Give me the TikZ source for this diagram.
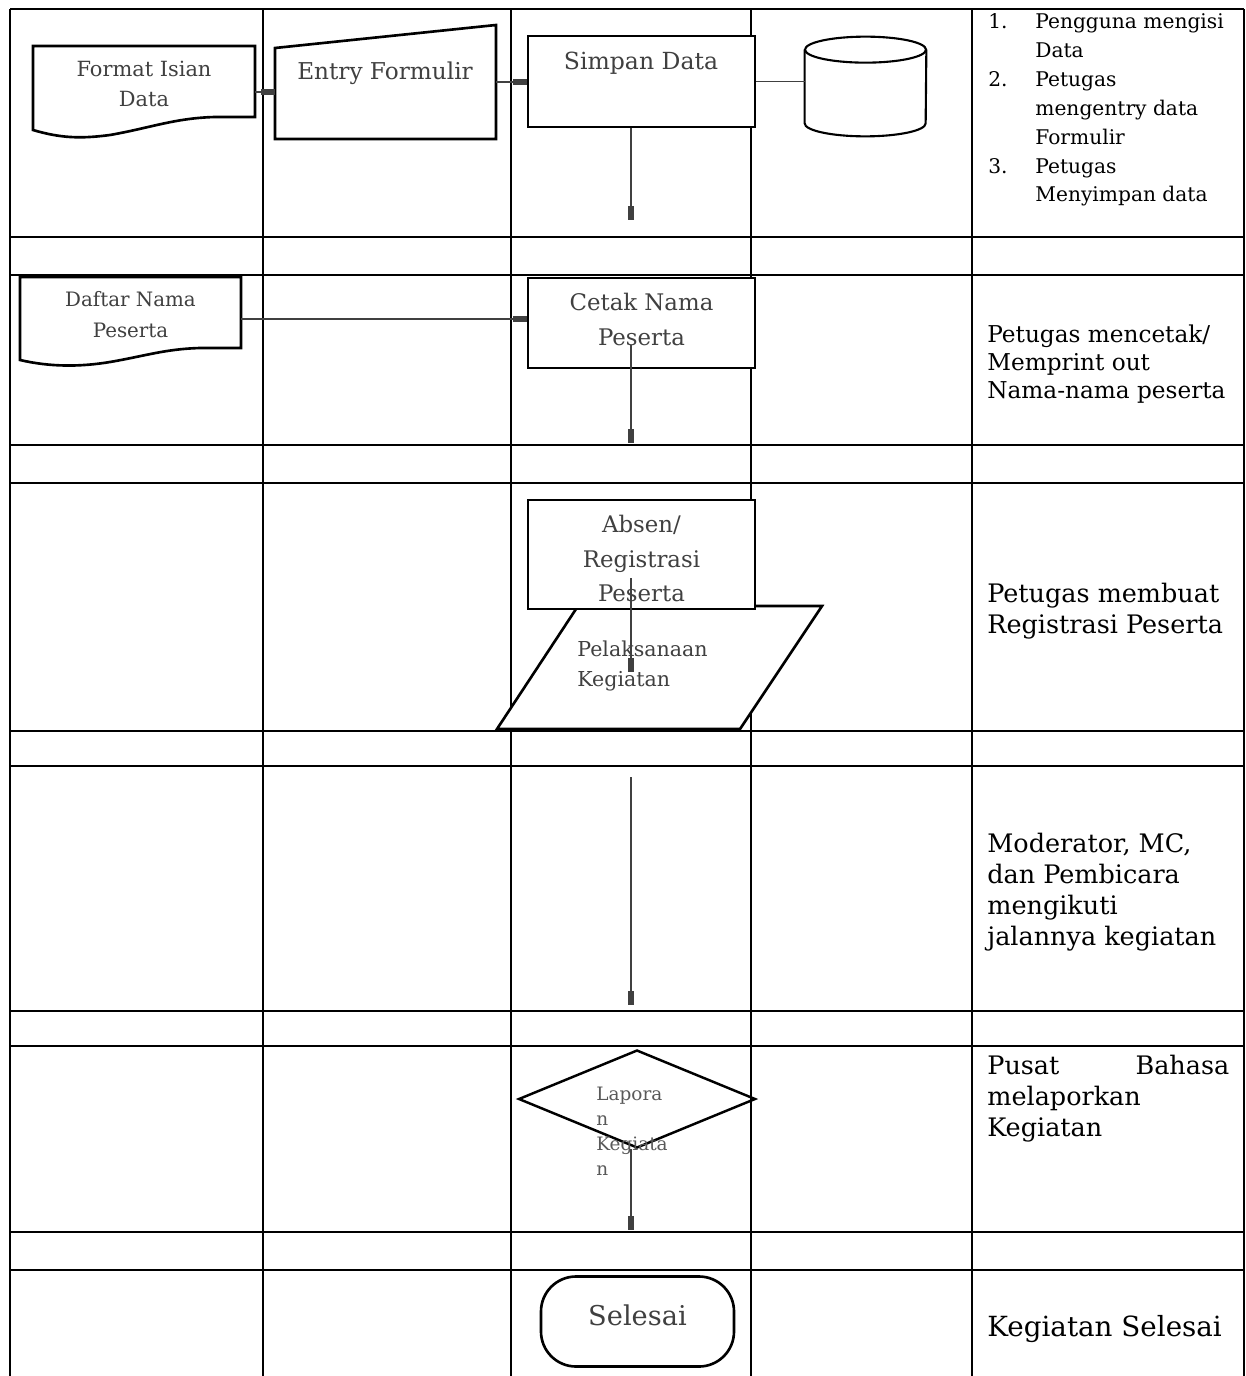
\documentclass[tikz,border=0pt]{standalone}
\usepackage{fontspec}
\setmainfont{DejaVu Serif}
\usetikzlibrary{shapes.geometric,shapes.misc,arrows.meta}
\newcommand\fsz[2]{\fontsize{#1}{#2}\selectfont}

\begin{document}
\begin{tikzpicture}[x=0.2mm,y=-0.2mm,
  grid/.style={line width=1.1pt},
  shp/.style={draw,line width=1.5pt,fill=white},
  lbl/.style={text=black!75,align=center,inner sep=0pt},
  flow/.style={line width=1pt,black!75,-{Rectangle[length=8pt,width=3.2pt]}},
  note/.style={align=left,anchor=west,inner sep=0pt}]
\useasboundingbox (0,0) rectangle (1245,1376);
% lanes
\foreach \x in {10,263,511,751,972,1244}
  \draw[grid] (\x,9) -- (\x,1376);
\foreach \y in {9,237,275,445,483,731,766,1011,1046,1232,1270}
  \draw[grid] (10,\y) -- (1244,\y);

% row 1
\draw[shp] (33,46) -- (255,46) -- (255,117) -- (215,117) .. controls (175,118) and (150,128) .. (110,135) .. controls (80,139) and (60,138) .. (33,130) -- cycle;
\node[lbl,minimum width=44.4mm,font=\fsz{11.9}{17}] (fmt) at (144,84) {Format Isian\\Data};
\draw[shp] (275,48) -- (496,25) -- (496,139) -- (275,139) -- cycle;
\node[inner sep=0,minimum width=44.2mm,minimum height=22.8mm] (entry) at (385.5,82) {};
\node[lbl,font=\fsz{13.2}{18}] (entrytxt) at (385,73) {Entry Formulir};
\node[shp,inner sep=0,minimum width=45.4mm,minimum height=18.2mm] (simpan) at (641.5,81.5) {};
\node[lbl,font=\fsz{13.4}{18}] (simpantxt) at (641,63) {Simpan Data};
\node[inner sep=0,minimum width=24.2mm,minimum height=19.8mm] (db) at (865.5,86.5) {};
\draw[line width=1.2pt] ([yshift=-2.6mm]db.north) ellipse [x radius=12.1mm,y radius=2.6mm];
\draw[line width=1.2pt] ([yshift=-2.6mm]db.north west) -- ([yshift=2.6mm]db.south west)
  arc[start angle=180,end angle=360,x radius=12.1mm,y radius=2.6mm] -- ([yshift=-2.6mm]db.north east);
\coordinate (f1) at ([yshift=-1.6mm]fmt.east);
\path[draw,flow] (f1) -- (f1 -| entry.west);
\path[draw,flow] (entry.east) -- (entry.east -| simpan.west);
\path[draw,line width=1pt,black!75] (simpan.east) -- (simpan.east -| db.west);
\coordinate (a1) at (631,220);
\path[draw,flow] (a1 |- simpan.south) -- (a1);
\node[note,anchor=base west,font=\fsz{11.5}{16.4}] (n1) at (988,29) {\begin{tabular}[t]{@{}p{9.4mm}@{}l@{}}
1.&Pengguna mengisi\\&Data\\2.&Petugas\\&mengentry data\\&Formulir\\3.&Petugas\\&Menyimpan data\end{tabular}};

% row 2
\draw[shp] (20,277) -- (241,277) -- (241,348) -- (200,348) .. controls (165,349) and (145,356) .. (110,362) .. controls (80,367) and (50,367) .. (20,360) -- cycle;
\node[lbl,minimum width=44.2mm,font=\fsz{11.3}{17.6}] (daftar) at (130.5,315) {Daftar Nama\\Peserta};
\node[shp,inner sep=0,minimum width=45.4mm,minimum height=18mm] (cetak) at (641.5,323) {};
\node[lbl,font=\fsz{13}{19.8}] (cetaktxt) at (641.5,319.5) {Cetak Nama\\Peserta};
\path[draw,flow] ([yshift=-0.8mm]daftar.east) -- ([yshift=-0.8mm]daftar.east -| cetak.west);
\coordinate (a2s) at (631,345);
\coordinate (a2) at (631,443);
\path[draw,flow] (a2s) -- (a2);
\node[note,font=\fsz{13.2}{15.9}] (n2) at (987,364) {Petugas mencetak/\\Memprint out\\Nama-nama peserta};

% row 3
\draw[shp] (578,606) -- (822,606) -- (740,729) -- (497,729) -- cycle;
\node[lbl,align=left,anchor=west,font=\fsz{11.7}{17}] (plk) at (577,666) {Pelaksanaan\\Kegiatan};
\node[shp,inner sep=0,minimum width=45.4mm,minimum height=21.8mm] (absen) at (641.5,554.5) {};
\node[lbl,font=\fsz{13}{19.8}] (absentxt) at (641.5,558.5) {Absen/\\Registrasi\\Peserta};
\coordinate (a3s) at (631,578);
\coordinate (a3) at (631,672);
\path[draw,flow] (a3s) -- (a3);
\node[note,font=\fsz{14.5}{17.6}] (n3) at (987,611.5) {Petugas membuat\\Registrasi Peserta};

% row 4
\coordinate (a4s) at (631,777);
\coordinate (a4) at (631,1005);
\path[draw,flow] (a4s) -- (a4);
\node[note,font=\fsz{14.5}{17.6}] (n4) at (987,892.5) {Moderator, MC,\\dan Pembicara\\mengikuti\\jalannya kegiatan};

% row 5
\node[draw,diamond,line width=1.4pt,inner sep=0,minimum width=47.4mm,minimum height=19.6mm] (lap) at (637,1099) {};
\node[lbl,align=left,anchor=north west,text=black!65,font=\fsz{10.5}{14.2}] (laptxt) at (596,1087) {Lapora\\n\\Kegiata\\n};
\coordinate (a5) at (631,1230);
\path[draw,flow] (a5 |- lap.south) -- (a5);
\node[note,text width=48.4mm,font=\fsz{14.5}{17.6}] (n5) at (987,1098.5) {Pusat\hfill Bahasa\\melaporkan\\Kegiatan};

% row 6
\node[shp,rounded corners=7mm,inner sep=0,minimum width=38.6mm,minimum height=18mm] (sel) at (637.5,1321.5) {};
\node[lbl,font=\fsz{15.5}{18}] (seltxt) at (637.5,1315) {Selesai};
\node[note,font=\fsz{15.8}{17.6}] (n6) at (987,1329) {Kegiatan Selesai};
\end{tikzpicture}
\end{document}
